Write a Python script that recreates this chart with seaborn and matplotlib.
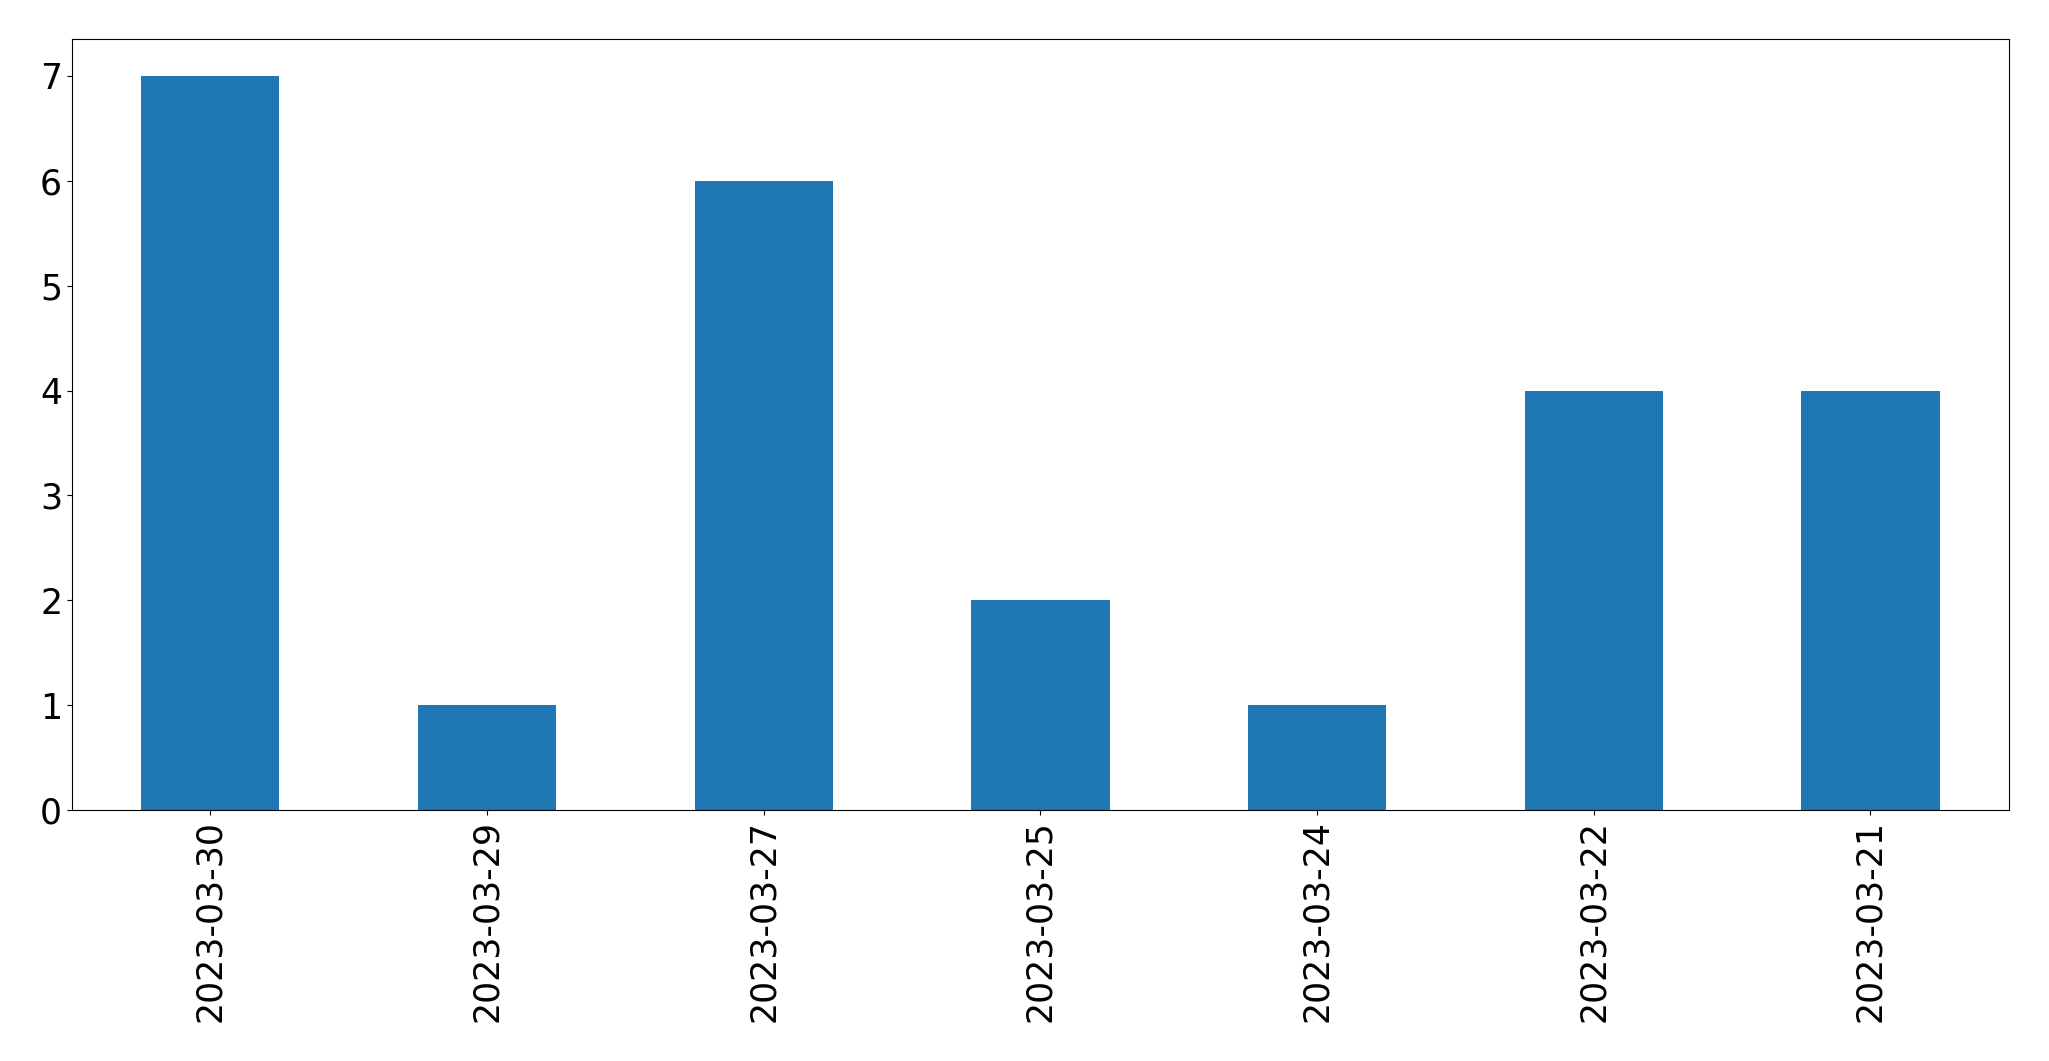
import matplotlib
matplotlib.use("Agg")
import matplotlib.pyplot as plt
import seaborn as sns
import pandas as pd

dates = ["2023-03-30", "2023-03-29", "2023-03-27", "2023-03-25",
         "2023-03-24", "2023-03-22", "2023-03-21"]
counts = [7, 1, 6, 2, 1, 4, 4]

df = pd.DataFrame({"date": dates, "count": counts})

fig = plt.figure(figsize=(20.49, 10.61), dpi=100)
ax = fig.add_axes([0.0351, 0.2365, 0.9453, 0.7265])

sns.barplot(data=df, x="date", y="count", order=dates, color="#1f77b4",
            saturation=1, width=0.5, ax=ax)

ax.set_xlim(-0.5, len(dates) - 0.5)
ax.set_ylim(0, 7.35)
ax.set_xlabel("")
ax.set_ylabel("")
ax.tick_params(axis="both", labelsize=25)
plt.setp(ax.get_xticklabels(), rotation=90)

fig.savefig("out.png", dpi=100)
